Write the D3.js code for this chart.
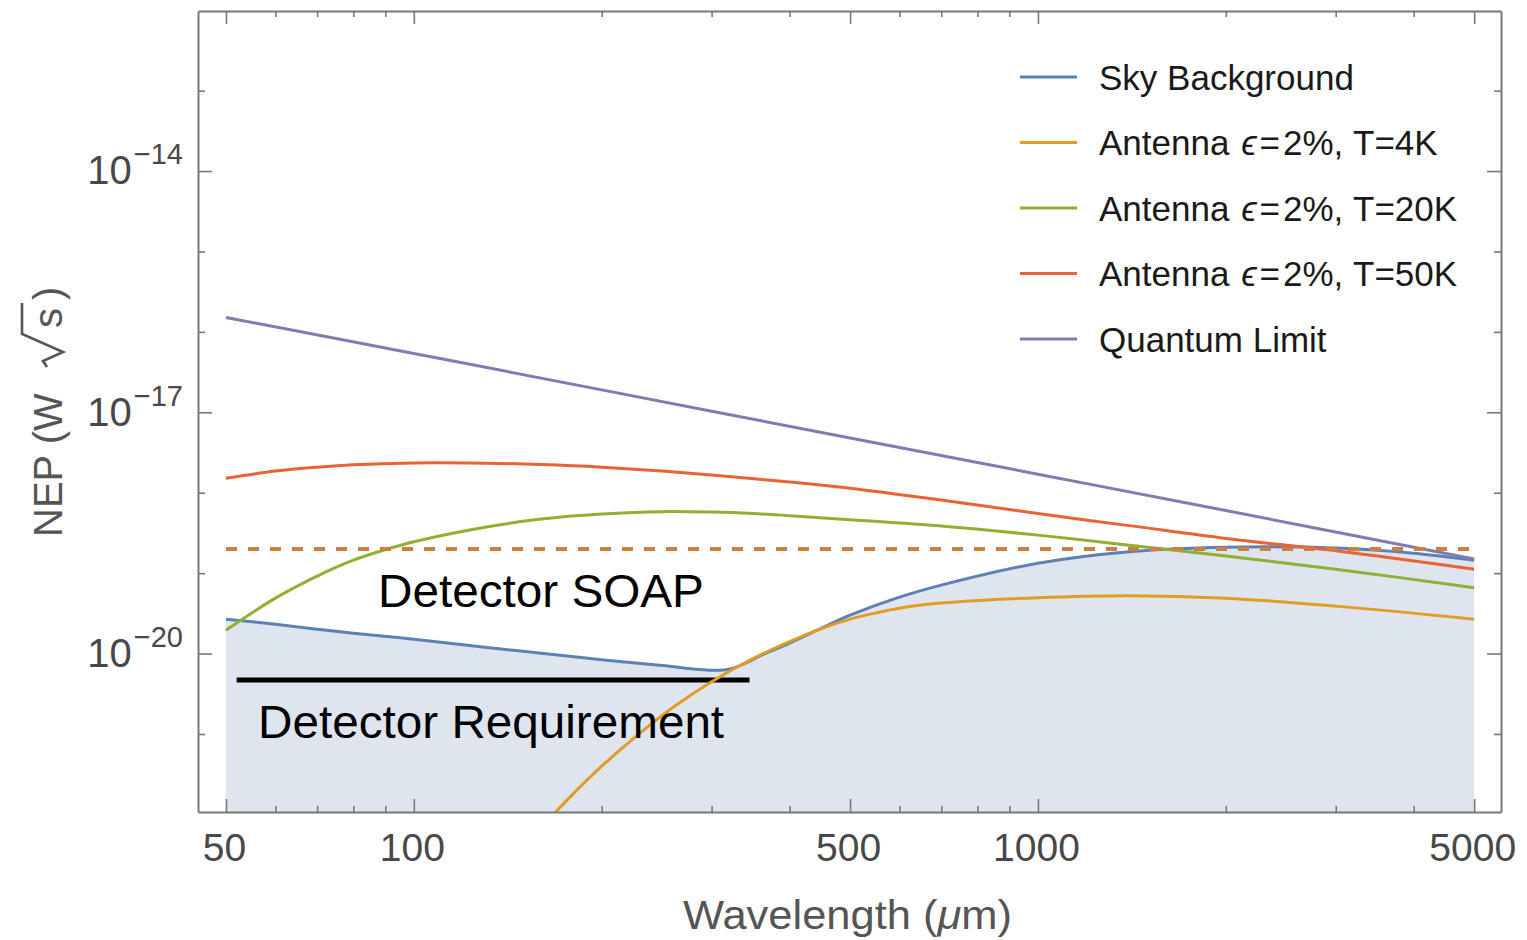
<!DOCTYPE html>
<html>
<head>
<meta charset="utf-8">
<script src="https://cdn.jsdelivr.net/npm/d3@7"></script>
<style>
  html, body { margin: 0; padding: 0; background: #fff; }
  svg { display: block; font-family: "Liberation Sans", Arial, Helvetica, sans-serif; }
</style>
</head>
<body>
<svg id="chart" width="1527" height="940"></svg>
<script>
// ---- Data (wavelength in µm, NEP in W·√s) ----
const skyWavelength = [50, 60, 70, 80, 100, 130, 160, 200, 250, 300, 320, 340, 360, 400, 450, 500, 600, 700, 1000, 1400, 2000, 3000, 4000, 5000];
const skyNEP = [2.68e-20, 2.32e-20, 2.01e-20, 1.79e-20, 1.51e-20, 1.20e-20, 1.01e-20, 8.4e-21, 7.1e-21, 6.2e-21, 6.4e-21, 7.6e-21, 9.5e-21, 1.35e-20, 2.07e-20, 3.0e-20, 5.03e-20, 7.1e-20, 1.33e-19, 1.85e-19, 2.10e-19, 2.05e-19, 1.77e-19, 1.45e-19];

const ant4KWavelength = [160, 180, 200, 230, 260, 300, 350, 400, 450, 500, 550, 600, 700, 1000, 1400, 2000, 3000, 5000];
const ant4KNEP = [6.9e-23, 1.80e-22, 3.98e-22, 1.02e-21, 2.14e-21, 4.47e-21, 8.7e-21, 1.41e-20, 2.04e-20, 2.68e-20, 3.2e-20, 3.67e-20, 4.24e-20, 4.95e-20, 5.25e-20, 4.89e-20, 3.89e-20, 2.68e-20];

const ant20KWavelength = [50, 60, 70, 80, 90, 100, 130, 160, 200, 250, 300, 350, 400, 500, 700, 1000, 1400, 2000, 3000, 5000];
const ant20KNEP = [1.95e-20, 4.89e-20, 9.2e-20, 1.45e-19, 1.96e-19, 2.46e-19, 3.73e-19, 4.7e-19, 5.42e-19, 5.82e-19, 5.74e-19, 5.5e-19, 5.19e-19, 4.62e-19, 3.85e-19, 2.97e-19, 2.23e-19, 1.63e-19, 1.12e-19, 6.6e-20];

const ant50KWavelength = [50, 60, 70, 80, 100, 130, 160, 200, 250, 300, 400, 500, 700, 1000, 1400, 2000, 3000, 5000];
const ant50KNEP = [1.51e-18, 1.86e-18, 2.08e-18, 2.23e-18, 2.35e-18, 2.33e-18, 2.24e-18, 2.08e-18, 1.86e-18, 1.66e-18, 1.36e-18, 1.14e-18, 8.1e-19, 5.5e-19, 3.9e-19, 2.7e-19, 1.9e-19, 1.12e-19];

const quantumWavelength = [50, 100, 200, 500, 1000, 2000, 5000];
const quantumNEP = [1.51e-16, 5.4e-17, 1.9e-17, 4.8e-18, 1.7e-18, 6.0e-19, 1.5e-19];

// Detector levels
const soapNEP = 2.0e-19;
const soapRange = [50, 5000];
const requirementNEP = 4.7e-21;
const requirementRange = [52, 345];

// Legend
const seriesLabels = ["Sky Background", "Antenna ϵ=2%, T=4K", "Antenna ϵ=2%, T=20K", "Antenna ϵ=2%, T=50K", "Quantum Limit"];
const seriesColors = ["#5e81b5", "#e19c24", "#8fb032", "#eb6235", "#8778b3"];

// Ticks
const xMajorTicks = [50, 100, 500, 1000, 5000];
const xMinorTicks = [60, 70, 80, 90, 200, 300, 400, 600, 700, 800, 900, 2000, 3000, 4000];
const yMajorTicks = [1e-20, 1e-17, 1e-14];
const yMinorTicks = [1e-21, 1e-19, 1e-18, 1e-16, 1e-15, 1e-13];

// ---- Layout ----
const svg = d3.select("#chart");
const plot = { left: 198, right: 1501, top: 11, bottom: 812 };
const axisColor = "#787878";
const labelColor = "#484848";

const x = d3.scaleLog().domain([45.1, 5520]).range([plot.left, plot.right]);
const y = d3.scaleLog().domain([Math.pow(10, -21.97), Math.pow(10, -12.01)]).range([plot.bottom, plot.top]);

const pairs = (wl, v) => wl.map((w, i) => ({ wl: w, v: v[i] }));
const smooth = d3.curveCatmullRom.alpha(0.5);

svg.append("defs").append("clipPath").attr("id", "plotClip")
  .append("rect")
  .attr("x", plot.left).attr("y", plot.top)
  .attr("width", plot.right - plot.left).attr("height", plot.bottom - plot.top);

const body = svg.append("g").attr("clip-path", "url(#plotClip)");

// Shaded region below the sky background
const skyData = pairs(skyWavelength, skyNEP);
body.append("path")
  .datum(skyData)
  .attr("fill", "#dee5ef")
  .attr("d", d3.area()
    .x(d => x(d.wl))
    .y0(plot.bottom)
    .y1(d => y(d.v))
    .curve(smooth));

// Requirement level and annotations (under the curves)
const reqY = y(requirementNEP);
body.append("line")
  .attr("x1", x(requirementRange[0])).attr("x2", x(requirementRange[1]))
  .attr("y1", reqY).attr("y2", reqY)
  .attr("stroke", "#000").attr("stroke-width", 5);

svg.append("text")
  .attr("x", x(87.6)).attr("y", y(soapNEP) + 58)
  .attr("font-size", 47).attr("fill", "#000")
  .attr("textLength", 326).attr("lengthAdjust", "spacingAndGlyphs")
  .text("Detector SOAP");

svg.append("text")
  .attr("x", x(56.3)).attr("y", reqY + 58)
  .attr("font-size", 47).attr("fill", "#000")
  .attr("textLength", 466).attr("lengthAdjust", "spacingAndGlyphs")
  .text("Detector Requirement");

// Curves
const line = d3.line().x(d => x(d.wl)).y(d => y(d.v)).curve(smooth);
const series = [
  pairs(skyWavelength, skyNEP),
  pairs(ant4KWavelength, ant4KNEP),
  pairs(ant20KWavelength, ant20KNEP),
  pairs(ant50KWavelength, ant50KNEP),
  pairs(quantumWavelength, quantumNEP)
];
series.forEach((s, i) => {
  body.append("path")
    .datum(s)
    .attr("fill", "none")
    .attr("stroke", seriesColors[i])
    .attr("stroke-width", 3)
    .attr("stroke-linejoin", "round")
    .attr("d", line);
});

// SOAP dashed level
const soapY = y(soapNEP);
body.append("line")
  .attr("x1", x(soapRange[0])).attr("x2", x(soapRange[1]))
  .attr("y1", soapY).attr("y2", soapY)
  .attr("stroke", "#c98040").attr("stroke-width", 4)
  .attr("stroke-dasharray", "11,11");

// ---- Axes (frame with inward ticks) ----
function styleAxis(g) {
  g.selectAll(".domain").attr("stroke", axisColor).attr("stroke-width", 2);
  g.selectAll(".tick line").attr("stroke", axisColor).attr("stroke-width", 1.6);
}

const gBottom = svg.append("g").attr("transform", `translate(0,${plot.bottom})`)
  .call(d3.axisBottom(x).tickValues(xMajorTicks).tickSize(-13).tickSizeOuter(0)
    .tickPadding(21).tickFormat(d3.format("d")));
styleAxis(gBottom);
gBottom.selectAll(".tick text").attr("font-size", 39).attr("fill", labelColor)
  .attr("font-family", "'Liberation Sans', Arial, sans-serif")
  .attr("dx", -2);

const gBottomMinor = svg.append("g").attr("transform", `translate(0,${plot.bottom})`)
  .call(d3.axisBottom(x).tickValues(xMinorTicks).tickSize(-6).tickFormat(""));
gBottomMinor.select(".domain").remove();
styleAxis(gBottomMinor);

const gTop = svg.append("g").attr("transform", `translate(0,${plot.top})`)
  .call(d3.axisTop(x).tickValues(xMajorTicks).tickSize(-13).tickSizeOuter(0).tickFormat(""));
styleAxis(gTop);
const gTopMinor = svg.append("g").attr("transform", `translate(0,${plot.top})`)
  .call(d3.axisTop(x).tickValues(xMinorTicks).tickSize(-6).tickFormat(""));
gTopMinor.select(".domain").remove();
styleAxis(gTopMinor);

const gLeft = svg.append("g").attr("transform", `translate(${plot.left},0)`)
  .call(d3.axisLeft(y).tickValues(yMajorTicks).tickSize(-14).tickSizeOuter(0).tickPadding(15));
styleAxis(gLeft);
gLeft.selectAll(".tick text").each(function (d) {
  const t = d3.select(this);
  const exp = Math.round(Math.log10(d));
  t.text(null).attr("font-size", 40).attr("fill", labelColor)
    .attr("font-family", "'Liberation Sans', Arial, sans-serif");
  t.append("tspan").text("10");
  t.append("tspan").attr("font-size", 29).attr("dx", 2).attr("dy", -20).text("\u2212" + Math.abs(exp));
});
const gLeftMinor = svg.append("g").attr("transform", `translate(${plot.left},0)`)
  .call(d3.axisLeft(y).tickValues(yMinorTicks).tickSize(-7).tickFormat(""));
gLeftMinor.select(".domain").remove();
styleAxis(gLeftMinor);

const gRight = svg.append("g").attr("transform", `translate(${plot.right},0)`)
  .call(d3.axisRight(y).tickValues(yMajorTicks).tickSize(-14).tickSizeOuter(0).tickFormat(""));
styleAxis(gRight);
const gRightMinor = svg.append("g").attr("transform", `translate(${plot.right},0)`)
  .call(d3.axisRight(y).tickValues(yMinorTicks).tickSize(-7).tickFormat(""));
gRightMinor.select(".domain").remove();
styleAxis(gRightMinor);

// ---- Axis titles ----
const xTitle = svg.append("text")
  .attr("x", (plot.left + plot.right) / 2 - 2).attr("y", 929)
  .attr("text-anchor", "middle")
  .attr("font-size", 40).attr("fill", "#555")
  .attr("textLength", 329).attr("lengthAdjust", "spacingAndGlyphs");
xTitle.append("tspan").text("Wavelength (");
xTitle.append("tspan").attr("font-style", "italic").text("\u03bc");
xTitle.append("tspan").text("m)");

// Vertical title: NEP (W √s), drawn along a rotated frame
const titleColor = "#555";
const yTitleG = svg.append("g").attr("transform", "translate(62,537) rotate(-90)");
yTitleG.append("text").attr("x", 0).attr("y", 0)
  .attr("font-size", 40).attr("fill", titleColor)
  .text("NEP (W");
yTitleG.append("path")
  .attr("d", "M170,-15 L176,-19 L185,1 L203,-40 L234,-40")
  .attr("fill", "none").attr("stroke", titleColor)
  .attr("stroke-width", 2.6).attr("stroke-linejoin", "miter");
yTitleG.append("text").attr("x", 209).attr("y", 0)
  .attr("font-size", 40).attr("fill", titleColor)
  .text("s");
yTitleG.append("text").attr("x", 237).attr("y", 0)
  .attr("font-size", 40).attr("fill", titleColor)
  .text(")");

// ---- Legend ----
const legend = svg.append("g");
seriesLabels.forEach((label, i) => {
  const cy = 77 + i * 65.5;
  legend.append("line")
    .attr("x1", 1020).attr("x2", 1077)
    .attr("y1", cy).attr("y2", cy)
    .attr("stroke", seriesColors[i]).attr("stroke-width", 3);
  const t = legend.append("text")
    .attr("x", 1099).attr("y", cy + 12.5)
    .attr("font-size", 35).attr("fill", "#1a1a1a");
  const parts = label.split("ϵ");
  if (parts.length === 2) {
    t.append("tspan").text(parts[0]);
    t.append("tspan").attr("font-style", "italic").attr("dx", 2).text("ϵ");
    t.append("tspan").attr("dx", 3).text(parts[1].slice(0, 1));
    t.append("tspan").attr("dx", 3).text(parts[1].slice(1));
  } else {
    t.text(label);
  }
});
</script>
</body>
</html>
